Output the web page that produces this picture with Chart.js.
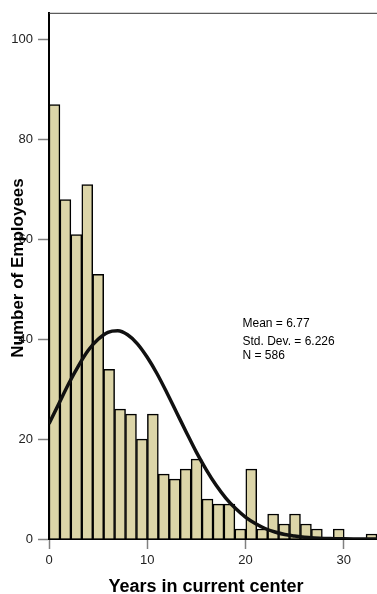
<!DOCTYPE html>
<html>
<head>
<meta charset="utf-8">
<script src="https://cdn.jsdelivr.net/npm/chart.js@4/dist/chart.umd.min.js"></script>
<style>
  html, body { margin: 0; padding: 0; background: #ffffff; }
  #wrap { width: 377px; height: 594px; }
</style>
</head>
<body>
<div id="wrap"><canvas id="c" width="377" height="594"></canvas></div>
<script>
// ---- data ----
const binWidth = 1.113; // years per histogram bin
const binCounts = [87, 68, 61, 71, 53, 34, 26, 25, 20, 25, 13, 12, 14, 16, 8, 7, 7, 2, 14, 2, 5, 3, 5, 3, 2, 0, 2, 0, 0, 1];
const curveYears = [0, 1, 2, 3, 4, 5, 6, 7, 8, 9, 10, 11, 12, 13, 14, 15, 16, 17, 18, 19, 20, 21, 22, 23, 24, 25, 26, 27, 28, 29, 30, 31, 32, 33, 33.4];
const curveValues = [23.1, 27.1, 31.1, 34.7, 37.8, 40.0, 41.4, 41.7, 40.9, 39.1, 36.4, 33.1, 29.3, 25.3, 21.3, 17.4, 13.9, 10.8, 8.2, 6.1, 4.4, 3.1, 2.1, 1.4, 0.9, 0.6, 0.35, 0.2, 0.1, 0.07, 0.04, 0.02, 0.01, 0.0, 0.0];
const xTicks = [0, 10, 20, 30];
const yTicks = [0, 20, 40, 60, 80, 100];
const yMax = 105.4;
const statsLines = ["Mean = 6.77", "Std. Dev. = 6.226", "N = 586"];
const xTitle = "Years in current center";
const yTitle = "Number of Employees";

const FONT = "'Liberation Sans', Arial, Helvetica, sans-serif";

const textPlugin = {
  id: 'textPlugin',
  afterDraw(chart) {
    const ctx = chart.ctx;
    const a = chart.chartArea;
    ctx.save();
    // top frame line
    ctx.strokeStyle = '#333333';
    ctx.lineWidth = 1;
    ctx.beginPath();
    ctx.moveTo(a.left, a.top + 0.5);
    ctx.lineTo(a.right, a.top + 0.5);
    ctx.stroke();

    // statistics block
    ctx.fillStyle = '#000000';
    ctx.font = '12px ' + FONT;
    ctx.textAlign = 'left';
    ctx.textBaseline = 'alphabetic';
    const baselines = [326.5, 345, 358.5];
    statsLines.forEach((t, i) => ctx.fillText(t, 242.5, baselines[i]));

    // x title
    ctx.font = 'bold 18px ' + FONT;
    ctx.textAlign = 'center';
    ctx.fillText(xTitle, 206, 591.5);

    // y title
    ctx.translate(22.5, 268);
    ctx.rotate(-Math.PI / 2);
    ctx.font = 'bold 17px ' + FONT;
    ctx.fillText(yTitle, 0, 0);
    ctx.restore();
  }
};

const ctx = document.getElementById('c').getContext('2d');
new Chart(ctx, {
  type: 'bar',
  data: {
    datasets: [
      {
        type: 'line',
        data: curveYears.map((x, i) => ({ x: x, y: curveValues[i] })),
        borderColor: '#111111',
        borderWidth: 3.5,
        pointRadius: 0,
        cubicInterpolationMode: 'monotone',
        fill: false,
        order: 0
      },
      {
        type: 'bar',
        data: binCounts.map((c, i) => ({ x: (i + 0.5) * binWidth, y: c })),
        backgroundColor: '#DCD5A8',
        borderColor: '#000000',
        borderWidth: 1.5,
        barPercentage: 1,
        categoryPercentage: 1,
        order: 1
      }
    ]
  },
  options: {
    responsive: false,
    animation: false,
    devicePixelRatio: 1,
    layout: { padding: { top: 11, left: 0, right: 0, bottom: 0 } },
    plugins: { legend: { display: false }, tooltip: { enabled: false } },
    scales: {
      x: {
        type: 'linear',
        min: 0,
        max: binCounts.length * binWidth,
        offset: false,
        afterBuildTicks: s => { s.ticks = xTicks.map(v => ({ value: v })); },
        afterFit: s => { s.height = 55; },
        grid: { offset: false, drawOnChartArea: false, drawTicks: true, tickLength: 10, tickColor: '#808080', tickWidth: 1.5 },
        border: { color: '#000000', width: 2 },
        ticks: { includeBounds: false, autoSkip: false, maxRotation: 0, padding: 4, color: '#222222', font: { family: FONT, size: 13 } }
      },
      y: {
        type: 'linear',
        min: 0,
        max: yMax,
        afterBuildTicks: s => { s.ticks = yTicks.map(v => ({ value: v })); },
        afterFit: s => { s.width = 49; },
        grid: { drawOnChartArea: false, drawTicks: true, tickLength: 11, tickColor: '#808080', tickWidth: 1.5 },
        border: { color: '#000000', width: 2 },
        ticks: { includeBounds: false, autoSkip: false, padding: 5, color: '#222222', font: { family: FONT, size: 13 } }
      }
    }
  },
  plugins: [textPlugin]
});
</script>
</body>
</html>
